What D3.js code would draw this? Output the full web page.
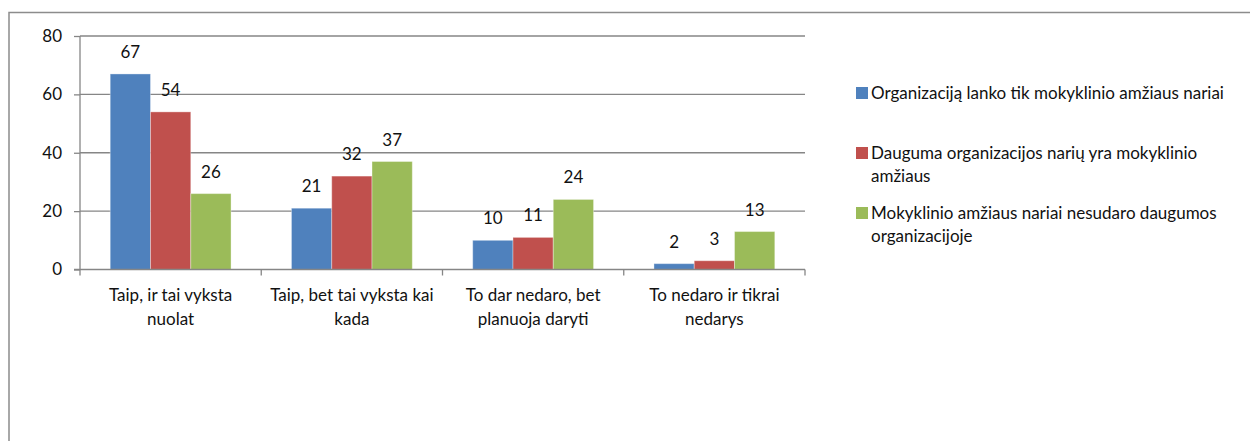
<!DOCTYPE html>
<html>
<head>
<meta charset="utf-8">
<script src="https://cdn.jsdelivr.net/npm/d3@7"></script>
<style>
  html, body { margin: 0; padding: 0; background: #fff; }
  svg { display: block; }
  text { font-family: Lato, "Open Sans", sans-serif; fill: #111; }
</style>
</head>
<body>
<div id="container"></div>
<script>
// chart data
const categories = [
	['Taip, ir tai vyksta', 'nuolat'],
	['Taip, bet tai vyksta kai', 'kada'],
	['To dar nedaro, bet', 'planuoja daryti'],
	['To nedaro ir tikrai', 'nedarys'],
];
const seriesNames = [
	['Organizaciją lanko tik mokyklinio amžiaus nariai'],
	['Dauguma organizacijos narių yra mokyklinio', 'amžiaus'],
	['Mokyklinio amžiaus nariai nesudaro daugumos', 'organizacijoje'],
];
const seriesColors = ['#4f81bd', '#c0504d', '#9bbb59'];
const onlySchoolAge = [67, 21, 10, 2];
const mostlySchoolAge = [54, 32, 11, 3];
const notMajority = [26, 37, 24, 13];
const yTicks = [0, 20, 40, 60, 80];

window.onload = function () {
	'use strict';
	let options = {
		width: 1250,
		height: 441,
		left: 80,
		right: 805,
		top: 36,
		bottom: 269.5,
		fontSize: 17,
	};
	let series = [onlySchoolAge, mostlySchoolAge, notMajority];

	let svg = d3.select('#container')
		.append('svg')
		.attr('width', options.width)
		.attr('height', options.height);

	// outer frame (only top and left edges are visible)
	svg.append('path')
		.attr('d', 'M9,441 V12.5 H1250')
		.attr('fill', 'none')
		.attr('stroke', '#8c8c8c')
		.attr('stroke-width', 1.5);

	let x = d3.scaleBand()
		.domain(d3.range(categories.length))
		.range([options.left, options.right]);
	let y = d3.scaleLinear()
		.domain([0, 80])
		.range([options.bottom, options.top]);
	let barW = x.bandwidth() / 4.5;
	let xs = d3.scaleBand()
		.domain(d3.range(series.length))
		.range([barW * 0.75, barW * 3.75]);

	// gridlines + y axis
	let yAxis = svg.append('g')
		.attr('transform', `translate(${options.left},0)`)
		.call(d3.axisLeft(y).tickValues(yTicks).tickSize(6).tickPadding(12));
	yAxis.select('.domain').attr('stroke', '#868686').attr('stroke-width', 1.3)
		.attr('d', `M0,${options.top}V${options.bottom}`);
	yAxis.selectAll('.tick line').attr('stroke', '#868686').attr('stroke-width', 1.3);
	yAxis.selectAll('.tick text').attr('font-size', options.fontSize)
		.attr('font-family', 'Lato, sans-serif').attr('fill', '#111');

	svg.append('g')
		.selectAll('line')
		.data(yTicks.filter((d) => d > 0))
		.join('line')
		.attr('x1', options.left)
		.attr('x2', options.right)
		.attr('y1', (d) => y(d))
		.attr('y2', (d) => y(d))
		.attr('stroke', '#868686')
		.attr('stroke-width', 1.3);

	// bars
	let groups = svg.append('g')
		.selectAll('g')
		.data(series)
		.join('g')
		.attr('fill', (d, i) => seriesColors[i]);

	groups.selectAll('rect')
		.data((d, si) => d.map((v, ci) => ({ v, ci, si })))
		.join('rect')
		.attr('x', (d) => x(d.ci) + xs(d.si))
		.attr('width', xs.bandwidth())
		.attr('y', (d) => y(d.v))
		.attr('height', (d) => y(0) - y(d.v))
		.attr('stroke', 'rgba(255,255,255,0.35)')
		.attr('stroke-width', 1);

	// value labels
	groups.selectAll('text')
		.data((d, si) => d.map((v, ci) => ({ v, ci, si })))
		.join('text')
		.attr('x', (d) => x(d.ci) + xs(d.si) + xs.bandwidth() / 2)
		.attr('y', (d) => y(d.v) - 16)
		.attr('text-anchor', 'middle')
		.attr('font-size', options.fontSize)
		.text((d) => d.v);

	// x axis
	let xAxis = svg.append('g')
		.attr('transform', `translate(0,${options.bottom})`);
	xAxis.append('line')
		.attr('x1', options.left - 6)
		.attr('x2', options.right)
		.attr('stroke', '#868686')
		.attr('stroke-width', 1.3);
	xAxis.selectAll('line.tick')
		.data(d3.range(categories.length + 1))
		.join('line')
		.attr('class', 'tick')
		.attr('x1', (d) => options.left + d * x.step())
		.attr('x2', (d) => options.left + d * x.step())
		.attr('y1', 0)
		.attr('y2', 6)
		.attr('stroke', '#868686')
		.attr('stroke-width', 1.3);
	xAxis.selectAll('text')
		.data(categories)
		.join('text')
		.attr('text-anchor', 'middle')
		.attr('font-size', options.fontSize)
		.attr('transform', (d, i) => `translate(${x(i) + x.bandwidth() / 2},0)`)
		.selectAll('tspan')
		.data((d) => d)
		.join('tspan')
		.attr('x', 0)
		.attr('y', (d, i) => 31 + i * 24)
		.text((d) => d);

	// legend
	let legend = svg.append('g')
		.attr('transform', 'translate(856,93)');
	let item = legend.selectAll('g')
		.data(seriesNames)
		.join('g')
		.attr('transform', (d, i) => `translate(0,${i * 60})`);
	item.append('rect')
		.attr('x', 0)
		.attr('y', -6)
		.attr('width', 12)
		.attr('height', 12)
		.attr('fill', (d, i) => seriesColors[i]);
	item.append('text')
		.attr('font-size', options.fontSize)
		.selectAll('tspan')
		.data((d) => d)
		.join('tspan')
		.attr('x', 15)
		.attr('y', (d, i) => 6 + i * 23)
		.text((d) => d);
};
</script>
</body>
</html>
